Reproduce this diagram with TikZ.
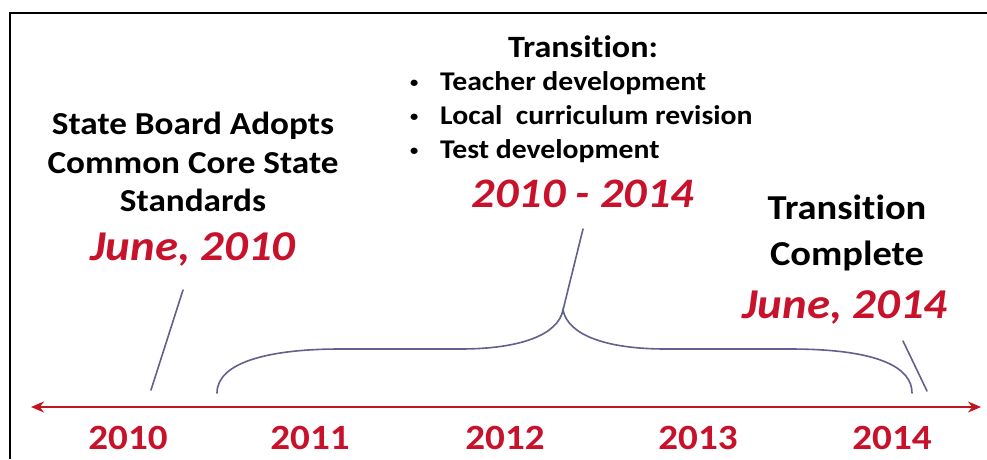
\documentclass[tikz,border=0pt]{standalone}
\usepackage{fontspec}
\setmainfont{Carlito}[FakeStretch=1.1, Ligatures=NoCommon]
\usetikzlibrary{arrows.meta}
\definecolor{tred}{RGB}{200,18,44}
\definecolor{axisred}{RGB}{192,20,30}
\definecolor{bracec}{RGB}{98,96,140}
\newcommand{\smallbul}{\makebox[31pt][l]{\hspace{1pt}\raisebox{3pt}{\fontsize{15}{15}\selectfont\textbullet}}}
\tikzset{
  blacktxt/.style={font=\bfseries\fontsize{#1}{#1}\selectfont, text=black, align=center, inner sep=0pt},
  redtxt/.style={font=\bfseries\itshape\fontsize{#1}{#1}\selectfont, text=tred, inner sep=0pt},
  yeartxt/.style={font=\bfseries\fontsize{35.5}{35.5}\selectfont, text=tred, inner sep=0pt},
  pointer/.style={draw=bracec, line width=1.6pt, line cap=round},
  axis/.style={draw=axisred, line width=2pt, {Stealth[length=13pt,width=11pt]}-{Stealth[length=13pt,width=11pt]}}
}
\begin{document}
\begin{tikzpicture}[x=1pt,y=-1pt]
\useasboundingbox (0,0) rectangle (987,459);
\fill[white] (0,0) rectangle (987,459);
% frame
\draw[line width=2.2pt] (10,459) -- (10,13) -- (987,13);

% left block
\node[blacktxt=32, font=\bfseries\fontsize{32}{38.5}\selectfont] (sb) at (193,162) {State Board Adopts\\Common Core State\\Standards};
\node[redtxt=42.5] (june1) at (193,249) {June, 2010};

% center block
\node[blacktxt=31] (trans) at (583,47) {Transition:};
\node[font=\bfseries\fontsize{27}{34}\selectfont, align=left, anchor=west, inner sep=0pt] (list) at (409,117)
  {\smallbul Teacher development\\
   \smallbul Local\ \ curriculum revision\\
   \smallbul Test development};
\node[redtxt=42] (range) at (583,194) {2010 - 2014};

% right block
\node[blacktxt=35, font=\bfseries\fontsize{35}{46}\selectfont] (tc) at (847,233) {Transition\\Complete};
\node[redtxt=42.5] (june2) at (845,307) {June, 2014};

% timeline axis
\coordinate (axL) at (31,407);
\coordinate (axR) at (981,407);
\draw[axis] (axL) -- (axR);

% years
\node[yeartxt] (y2010) at (128,438) {2010};
\node[yeartxt] (y2011) at (310,438) {2011};
\node[yeartxt] (y2012) at (505,438) {2012};
\node[yeartxt] (y2013) at (698,438) {2013};
\node[yeartxt] (y2014) at (892,438) {2014};

% pointers
\coordinate (p1a) at (183,290);
\coordinate (p1b) at (151,390);
\draw[pointer] (p1a) -- (p1b);

\coordinate (p2a) at (903,341);
\coordinate (p2b) at (927,391);
\draw[pointer] (p2a) -- (p2b);

% brace
\coordinate (bL) at (217,393);
\coordinate (bT) at (563,310);
\coordinate (bR) at (912,393);
\coordinate (bTop) at (583,229);
\draw[pointer] (bL) .. controls (217,362) and (270,349) .. (340,349)
  -- (460,349) .. controls (520,349) and (558,335) .. (bT)
  .. controls (568,335) and (606,349) .. (666,349)
  -- (790,349) .. controls (880,349) and (912,368) .. (bR);
\draw[pointer] (bT) -- (bTop);
\end{tikzpicture}
\end{document}
